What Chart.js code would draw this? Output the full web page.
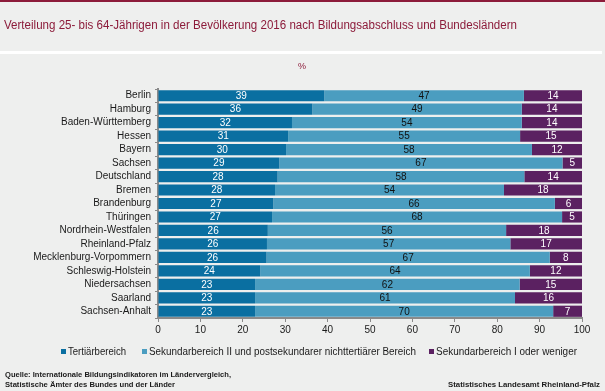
<!DOCTYPE html>
<html>
<head>
<meta charset="utf-8">
<script src="https://cdn.jsdelivr.net/npm/chart.js@4/dist/chart.umd.min.js"></script>
<style>
  html, body { margin: 0; padding: 0; background: #eeefee; }
  #wrap { position: relative; width: 605px; height: 391px; }
</style>
</head>
<body>
<div id="wrap"><canvas id="chart" width="605" height="391"></canvas></div>
<script>
// Data
const laender = ['Berlin', 'Hamburg', 'Baden-Württemberg', 'Hessen', 'Bayern', 'Sachsen', 'Deutschland', 'Bremen',
    'Brandenburg', 'Thüringen', 'Nordrhein-Westfalen', 'Rheinland-Pfalz', 'Mecklenburg-Vorpommern',
    'Schleswig-Holstein', 'Niedersachsen', 'Saarland', 'Sachsen-Anhalt'];
const tertiaer = [39.2, 36.4, 31.6, 30.7, 30.2, 28.6, 28.2, 27.6, 27.2, 26.9, 25.9, 25.7, 25.6, 24.1, 22.9, 22.9, 22.9];
const sekundarII = [47.1, 49.4, 54.2, 54.7, 58.0, 66.8, 58.2, 54.0, 66.4, 68.4, 56.2, 57.4, 66.8, 63.6, 62.4, 61.3, 70.3];
const sekundarI = [13.7, 14.2, 14.2, 14.6, 11.8, 4.6, 13.6, 18.4, 6.4, 4.7, 17.9, 16.9, 7.6, 12.3, 14.7, 15.8, 6.8];
const xTicks = [0, 10, 20, 30, 40, 50, 60, 70, 80, 90, 100];

const titleText = 'Verteilung 25- bis 64-Jährigen in der Bevölkerung 2016 nach Bildungsabschluss und Bundesländern';
const seriesNames = ['Tertiärbereich', 'Sekundarbereich II und postsekundarer nichttertiärer Bereich', 'Sekundarbereich I oder weniger'];
const sourceLines = ['Quelle: Internationale Bildungsindikatoren im Ländervergleich,', 'Statistische Ämter des Bundes und der Länder'];
const publisher = 'Statistisches Landesamt Rheinland-Pfalz';

// Colors
const colors = {
    tert: '#0a6fa1',
    sek2: '#4b9dc0',
    sek1: '#5b2161',
    title: '#8c1b3a',
    axis: '#8a8a8a',
    text: '#1a1a1a'
};

Chart.defaults.font.family = '"Liberation Sans", Arial, sans-serif';
Chart.defaults.color = colors.text;

// Header, legend and footer
const framePlugin = {
    id: 'frame',
    beforeDraw(chart) {
        const ctx = chart.ctx;
        ctx.save();
        ctx.fillStyle = '#eeefee';
        ctx.fillRect(0, 0, chart.width, chart.height);
        ctx.fillStyle = colors.title;
        ctx.fillRect(0, 0, chart.width, 2);
        ctx.fillStyle = '#ffffff';
        ctx.fillRect(0, 51, 602, 3);

        ctx.fillStyle = colors.title;
        ctx.font = '12.5px "Liberation Sans", Arial';
        ctx.textBaseline = 'middle';
        ctx.textAlign = 'left';
        ctx.fillText(titleText, 4, 26, 513);

        ctx.fillStyle = colors.title;
        ctx.font = '9px "Liberation Sans", Arial';
        ctx.textAlign = 'center';
        ctx.fillText('%', 302, 67);
        ctx.restore();
    },
    afterDraw(chart) {
        const ctx = chart.ctx;
        ctx.save();
        ctx.textBaseline = 'middle';
        ctx.textAlign = 'left';
        ctx.font = '10px "Liberation Sans", Arial';
        const items = [
            { x: 61, color: colors.tert, w: 58 },
            { x: 142, color: colors.sek2, w: 267 },
            { x: 429, color: colors.sek1, w: 141 }
        ];
        items.forEach((it, i) => {
            ctx.fillStyle = it.color;
            ctx.fillRect(it.x, 349, 5, 5);
            ctx.fillStyle = colors.text;
            ctx.fillText(seriesNames[i], it.x + 7, 352, it.w);
        });

        ctx.font = 'bold 8px "Liberation Sans", Arial';
        ctx.fillText(sourceLines[0], 5, 375, 226);
        ctx.fillText(sourceLines[1], 5, 385, 170);
        ctx.textAlign = 'right';
        ctx.fillText(publisher, 600, 385, 152);
        ctx.restore();
    }
};

// Values inside the bars
const barLabelPlugin = {
    id: 'barLabels',
    afterDatasetsDraw(chart) {
        const ctx = chart.ctx;
        ctx.save();
        ctx.font = '10px "Liberation Sans", Arial';
        ctx.textAlign = 'center';
        ctx.textBaseline = 'middle';
        chart.data.datasets.forEach((ds, di) => {
            const meta = chart.getDatasetMeta(di);
            ctx.fillStyle = di === 1 ? '#111111' : '#ffffff';
            meta.data.forEach((bar, i) => {
                const cx = (bar.x + bar.base) / 2;
                ctx.fillText(String(Math.round(ds.data[i])), cx, bar.y + 0.5);
            });
        });
        ctx.restore();
    }
};

function setupChart() {
    const ctx = document.getElementById('chart').getContext('2d');
    new Chart(ctx, {
        type: 'bar',
        data: {
            labels: laender,
            datasets: [
                { label: seriesNames[0], data: tertiaer, backgroundColor: colors.tert },
                { label: seriesNames[1], data: sekundarII, backgroundColor: colors.sek2 },
                { label: seriesNames[2], data: sekundarI, backgroundColor: colors.sek1 }
            ]
        },
        options: {
            indexAxis: 'y',
            responsive: false,
            animation: false,
            events: [],
            datasets: {
                bar: { categoryPercentage: 1, barPercentage: 0.83, borderWidth: 0 }
            },
            layout: { padding: { top: 89, right: 23, bottom: 53, left: 0 } },
            plugins: {
                legend: { display: false },
                tooltip: { enabled: false }
            },
            scales: {
                x: {
                    stacked: true,
                    min: 0,
                    max: 100,
                    afterBuildTicks: (scale) => { scale.ticks = xTicks.map(v => ({ value: v })); },
                    afterFit: (scale) => { scale.height = 20; },
                    grid: { drawOnChartArea: false, drawTicks: true, tickLength: 4, color: colors.axis },
                    border: { color: colors.axis, width: 2 },
                    ticks: { font: { size: 10 }, color: colors.text, padding: 2, maxRotation: 0 }
                },
                y: {
                    stacked: true,
                    afterFit: (scale) => { scale.width = 158; },
                    grid: { drawOnChartArea: false, drawTicks: true, tickLength: 3, offset: true, color: colors.axis },
                    border: { color: colors.axis, width: 2 },
                    ticks: { font: { size: 10 }, color: colors.text, padding: 4, autoSkip: false }
                }
            }
        },
        plugins: [framePlugin, barLabelPlugin]
    });
}

setupChart();
</script>
</body>
</html>
